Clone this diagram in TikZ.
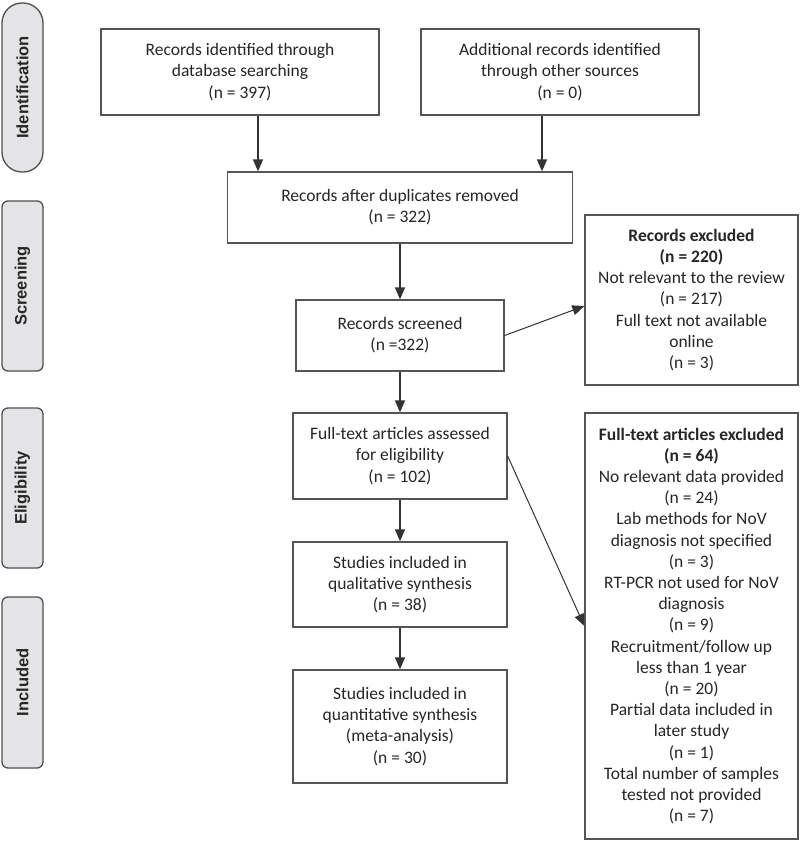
\documentclass[tikz,border=0pt]{standalone}
\usepackage{fontspec}
\setmainfont{Carlito}
\newfontfamily\labfont{Liberation Sans}
\usetikzlibrary{arrows.meta}
\definecolor{boxgray}{HTML}{555555}
\definecolor{txt}{HTML}{262626}
\definecolor{labfill}{HTML}{E4E4E6}
\definecolor{labborder}{HTML}{505050}
\definecolor{arrgray}{HTML}{333333}
\begin{document}
\begin{tikzpicture}[x=1pt,y=-1pt,
  box/.style={draw=boxgray, line width=1.3pt, fill=white, align=center, inner sep=0pt, text=txt, font=\fontsize{17.5}{21.2}\selectfont},
  phase/.style={draw=labborder, fill=labfill, line width=1.3pt, rounded corners=6pt, inner sep=0pt, minimum height=41pt, rotate=90, text=txt, font=\labfont\bfseries\fontsize{16.5}{20}\selectfont},
  arr/.style={draw=arrgray, line width=1.5pt, -{Triangle[length=12pt,width=10pt]}},
  darr/.style={arr, line width=1pt}]
\useasboundingbox (0,0) rectangle (800,841);
% phase labels
\node[phase, rounded corners=20pt, minimum width=169pt] (pid) at (22.5,87.5) {Identification};
\node[phase, minimum width=170pt] (pscr) at (22.5,286) {Screening};
\node[phase, minimum width=160pt] (pel) at (22.5,488) {Eligibility};
\node[phase, minimum width=171pt] (pin) at (22.5,682.5) {Included};
% boxes
\node[box, minimum width=278pt, minimum height=86pt] (b1) at (240,72) {Records identified through\\database searching\\(n = 397)};
\node[box, minimum width=278pt, minimum height=86pt] (b2) at (560,72) {Additional records identified\\through other sources\\(n = 0)};
\node[box, minimum width=345pt, minimum height=71pt] (b3) at (400,207.5) {Records after duplicates removed\\(n = 322)};
\node[box, minimum width=208pt, minimum height=71pt] (b4) at (400,335.5) {Records screened\\(n =322)};
\node[box, minimum width=213pt, minimum height=170pt] (ex1) at (691.5,300) {\textbf{Records excluded}\\\textbf{(n = 220)}\\Not relevant to the review\\(n = 217)\\Full text not available\\online\\(n = 3)};
\node[box, minimum width=214pt, minimum height=86pt] (b5) at (400,456) {Full-text articles assessed\\for eligibility\\(n = 102)};
\node[box, minimum width=213pt, minimum height=426pt] (ex2) at (691.5,626) {\textbf{Full-text articles excluded}\\\textbf{(n = 64)}\\No relevant data provided\\(n = 24)\\Lab methods for NoV\\diagnosis not specified\\(n = 3)\\RT-PCR not used for NoV\\diagnosis\\(n = 9)\\Recruitment/follow up\\less than 1 year\\(n = 20)\\Partial data included in\\later study\\(n = 1)\\Total number of samples\\tested not provided\\(n = 7)};
\node[box, minimum width=214pt, minimum height=85pt] (b6) at (400,584.5) {Studies included in\\qualitative synthesis\\(n = 38)};
\node[box, minimum width=214pt, minimum height=113pt] (b7) at (400,726.5) {Studies included in\\quantitative synthesis\\(meta-analysis)\\(n = 30)};
% connectors
\draw[arr] ([xshift=18pt]b1.south) -- ([xshift=18pt]b1.south |- b3.north);
\draw[arr] ([xshift=-18pt]b2.south) -- ([xshift=-18pt]b2.south |- b3.north);
\draw[arr] (b3.south) -- (b4.north);
\draw[darr] (b4.east) -- ([yshift=-6pt]ex1.west);
\draw[arr] (b4.south) -- (b5.north);
\draw[darr] (b5.east) -- (ex2.west);
\draw[arr] (b5.south) -- (b6.north);
\draw[arr] (b6.south) -- (b7.north);
\end{tikzpicture}
\end{document}
